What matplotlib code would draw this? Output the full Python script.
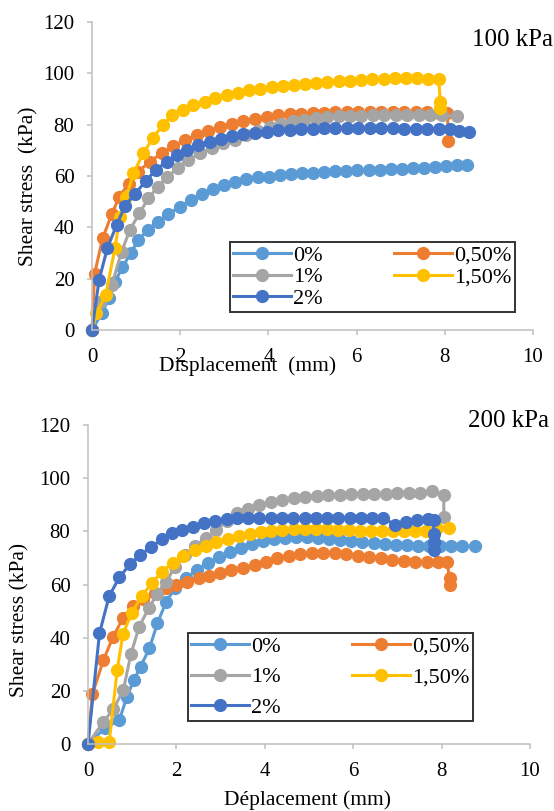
import matplotlib
matplotlib.use('Agg')
import matplotlib.pyplot as plt
from matplotlib.lines import Line2D

plt.rcParams['font.family'] = ['Liberation Serif', 'DejaVu Serif']

labels = ['0%', '0,50%', '1%', '1,50%', '2%']
colors = ['#5B9BD5', '#ED7D31', '#A5A5A5', '#FFC000', '#4472C4']

# ---- 100 kPa ----
x100_0 = [0, 0.22, 0.39, 0.52, 0.69, 0.88, 1.05, 1.26, 1.49, 1.73, 2.0, 2.24, 2.49, 2.75,
          3.0, 3.24, 3.5, 3.76, 4.01, 4.26, 4.52, 4.77, 5.02, 5.27, 5.52, 5.77, 6.02, 6.27,
          6.52, 6.77, 7.02, 7.27, 7.52, 7.77, 8.02, 8.27, 8.5]
y100_0 = [0, 6.5, 12.5, 18.8, 24.4, 30.1, 35, 39, 42.2, 45.2, 48, 50.6, 53, 54.8,
          56.5, 57.8, 59, 59.5, 59.8, 60.2, 60.6, 61.0, 61.3, 61.6, 61.8, 62.0, 62.2, 62.3,
          62.5, 62.7, 62.9, 63.1, 63.3, 63.6, 63.8, 64.1, 64.3]

x100_05 = [0, 0.06, 0.24, 0.45, 0.62, 0.83, 1.05, 1.31, 1.58, 1.84, 2.1, 2.37, 2.64, 2.9,
           3.17, 3.43, 3.7, 3.96, 4.22, 4.48, 4.74, 5.0, 5.26, 5.52, 5.78, 6.04, 6.3, 6.56,
           6.82, 7.08, 7.34, 7.6, 7.86, 8.06, 8.08]
y100_05 = [0, 22, 35.7, 45.2, 52, 57, 61.7, 65.6, 68.8, 71.6, 74, 75.9, 77.6, 79.1,
           80.4, 81.5, 82.4, 83, 83.6, 84, 84.3, 84.5, 84.7, 84.8, 84.9, 85, 85, 85,
           85, 84.9, 84.9, 84.8, 84.7, 84.5, 73.5]

x100_1 = [0, 0.18, 0.45, 0.67, 0.86, 1.07, 1.28, 1.49, 1.71, 1.96, 2.18, 2.45, 2.71, 2.98,
          3.24, 3.5, 3.76, 4.03, 4.29, 4.55, 4.81, 5.07, 5.33, 5.59, 5.85, 6.11, 6.37, 6.63,
          6.89, 7.15, 7.41, 7.67, 7.93, 8.27]
y100_1 = [0, 11, 17.5, 30.5, 39, 45.4, 51.3, 55.8, 59.7, 63.3, 66.2, 68.8, 71.1, 72.7,
          74.2, 75.9, 77.6, 79.1, 80.4, 81.3, 82, 82.5, 82.9, 83.2, 83.4, 83.5, 83.6, 83.7,
          83.7, 83.8, 83.8, 83.7, 83.6, 83.3]

x100_15 = [0, 0.1, 0.31, 0.52, 0.63, 0.78, 0.94, 1.16, 1.39, 1.6, 1.82, 2.07, 2.3, 2.56,
           2.8, 3.05, 3.32, 3.57, 3.82, 4.08, 4.33, 4.58, 4.84, 5.09, 5.34, 5.6, 5.85, 6.1,
           6.36, 6.61, 6.86, 7.11, 7.37, 7.62, 7.86, 7.9, 7.9]
y100_15 = [0, 6.5, 13.6, 31.8, 44, 52, 61, 68.8, 75, 79.8, 83.7, 85.9, 87.6, 88.9,
           90.2, 91.5, 92.5, 93.4, 94, 94.6, 95.1, 95.5, 95.9, 96.2, 96.5, 97, 97.2, 97.5,
           97.7, 97.9, 98, 98, 98, 97.9, 97.8, 89, 86.5]

x100_2 = [0, 0.16, 0.35, 0.56, 0.75, 0.97, 1.22, 1.44, 1.69, 1.92, 2.15, 2.41, 2.68, 2.93,
          3.17, 3.43, 3.7, 3.96, 4.22, 4.48, 4.74, 5.0, 5.26, 5.52, 5.78, 6.04, 6.3, 6.56,
          6.82, 7.08, 7.34, 7.6, 7.86, 8.12, 8.32, 8.56]
y100_2 = [0, 19.5, 32, 41, 48.4, 53, 58, 62.3, 65.5, 68.1, 70.3, 72, 73.3, 74.6,
          75.6, 76.3, 76.8, 77.3, 77.8, 78.1, 78.3, 78.5, 78.6, 78.7, 78.7, 78.7, 78.7, 78.6,
          78.6, 78.5, 78.5, 78.4, 78.3, 78.2, 77.6, 77.2]

# ---- 200 kPa ----
x200_0 = [0, 0.38, 0.71, 0.88, 1.04, 1.19, 1.39, 1.57, 1.77, 1.97, 2.22, 2.46, 2.71, 2.96,
          3.21, 3.46, 3.71, 3.96, 4.21, 4.46, 4.71, 4.96, 5.21, 5.46, 5.71, 5.96, 6.21, 6.46,
          6.71, 6.96, 7.21, 7.46, 7.71, 7.96, 8.21, 8.46, 8.76]
y200_0 = [0, 5.9, 9, 17.8, 24.1, 29.1, 36, 45.4, 53.6, 58.6, 62.3, 65.4, 68, 70.3,
          72.2, 73.8, 75.1, 76.2, 77, 77.5, 77.8, 77.8, 77.6, 77.2, 76.8, 76.3, 75.9, 75.6,
          75.3, 75, 74.8, 74.6, 74.5, 74.5, 74.4, 74.4, 74.5]

x200_05 = [0, 0.1, 0.35, 0.57, 0.79, 1.01, 1.25, 1.52, 1.77, 2.0, 2.25, 2.5, 2.74, 2.98,
           3.24, 3.5, 3.77, 4.03, 4.28, 4.54, 4.8, 5.06, 5.32, 5.58, 5.84, 6.1, 6.36, 6.62,
           6.88, 7.14, 7.4, 7.66, 7.92, 8.12, 8.18, 8.18]
y200_05 = [0, 18.8, 31.6, 40.4, 47.3, 51.9, 54.4, 56.7, 58.6, 59.8, 61.1, 62.3, 63.2, 64.2,
           65.4, 66.3, 67.3, 68.6, 70, 70.8, 71.3, 71.7, 71.9, 71.8, 71.3, 70.8, 70.3, 69.8,
           69.2, 68.8, 68.5, 68.3, 68.3, 68.6, 62.4, 60]

x200_1 = [0, 0.35, 0.57, 0.8, 0.97, 1.16, 1.37, 1.57, 1.77, 1.97, 2.2, 2.42, 2.67, 2.9,
          3.14, 3.37, 3.62, 3.88, 4.14, 4.4, 4.66, 4.92, 5.18, 5.44, 5.7, 5.96, 6.22, 6.48,
          6.74, 7.0, 7.26, 7.52, 7.78, 8.05, 8.05]
y200_1 = [0, 8.4, 13, 20.3, 33.8, 44.2, 51, 56.5, 61.1, 66.7, 71.1, 74.5, 77.4, 80.5,
          84, 86.8, 88.5, 90, 91, 91.8, 92.4, 92.9, 93.3, 93.6, 93.8, 94, 94.1, 94.2,
          94.2, 94.3, 94.4, 94.6, 95.2, 93.8, 85.5]

x200_15 = [0, 0.23, 0.48, 0.66, 0.79, 0.99, 1.22, 1.44, 1.67, 1.92, 2.16, 2.42, 2.67, 2.9,
           3.16, 3.41, 3.66, 3.92, 4.15, 4.4, 4.65, 4.9, 5.15, 5.4, 5.65, 5.9, 6.15, 6.4,
           6.65, 6.9, 7.15, 7.4, 7.65, 7.9, 8.16]
y200_15 = [0, 0.9, 0.9, 27.8, 41.3, 49.4, 55.7, 60.4, 64.8, 68.2, 70.8, 72.8, 74.3, 75.8,
           77.1, 78.1, 79, 79.7, 80.2, 80.5, 80.7, 80.8, 80.8, 80.7, 80.5, 80.4, 80.3, 80.2,
           80.1, 80.1, 80.0, 80.0, 80.0, 81.2, 81.3]

x200_2 = [0, 0.26, 0.48, 0.71, 0.95, 1.18, 1.42, 1.67, 1.89, 2.12, 2.38, 2.63, 2.88, 3.14,
          3.37, 3.62, 3.88, 4.13, 4.39, 4.64, 4.9, 5.15, 5.41, 5.66, 5.92, 6.17, 6.43, 6.68,
          6.94, 7.19, 7.45, 7.7, 7.82, 7.82, 7.82, 7.82]
y200_2 = [0, 41.7, 55.7, 62.7, 67.6, 71.1, 74, 77, 79.2, 80.5, 81.8, 83, 84, 84.5,
          84.9, 85, 85, 85.1, 85.1, 85.1, 85.2, 85.2, 85.2, 85.1, 85.1, 85, 84.9, 85,
          82.5, 83.5, 84.2, 84.5, 84.3, 79, 76, 73]

x_ticks = [0, 2, 4, 6, 8, 10]
y_ticks = [0, 20, 40, 60, 80, 100, 120]

W, H = 554, 811
fig = plt.figure(figsize=(W / 100, H / 100), dpi=100)


def px_axes(left, right, top, bottom):
    return fig.add_axes([left / W, 1 - bottom / H, (right - left) / W, (bottom - top) / H])


def style(ax):
    ax.set_xlim(0, 10)
    ax.set_ylim(0, 120)
    ax.set_xticks(x_ticks)
    ax.set_yticks(y_ticks)
    for s in ['top', 'right']:
        ax.spines[s].set_visible(False)
    for s in ['left', 'bottom']:
        ax.spines[s].set_color('#BFBFBF')
        ax.spines[s].set_linewidth(1.1)
    ax.tick_params(direction='out', length=3.6, width=1.1, color='#BFBFBF',
                   labelsize=15, pad=9)


def draw(ax, series):
    handles = []
    for (xs, ys), lab, c in zip(series, labels, colors):
        h, = ax.plot(xs, ys, '-o', color=c, lw=2.2, ms=8.5, mec=c, label=lab,
                     clip_on=False)
        handles.append(h)
    return handles


def legend(ax, handles, x0, y0, spacing):
    order = [0, 2, 4, 1, 3]
    leg = ax.legend([handles[i] for i in order], [labels[i] for i in order],
                    ncol=2, loc='upper left', bbox_to_anchor=(x0, y0),
                    borderaxespad=0, fontsize=16, frameon=True, fancybox=False,
                    edgecolor='black', handlelength=2.6, handletextpad=0.1,
                    columnspacing=3.2, labelspacing=spacing, borderpad=0.15)
    leg.get_frame().set_linewidth(1.4)


ax1 = px_axes(92, 533, 22, 330)
style(ax1)
h1 = draw(ax1, [(x100_0, y100_0), (x100_05, y100_05), (x100_1, y100_1),
                (x100_15, y100_15), (x100_2, y100_2)])
legend(ax1, h1, 0.313, 0.286, 0.05)

ax2 = px_axes(88, 530, 425, 744)
style(ax2)
h2 = draw(ax2, [(x200_0, y200_0), (x200_05, y200_05), (x200_1, y200_1),
                (x200_15, y200_15), (x200_2, y200_2)])
legend(ax2, h2, 0.226, 0.348, 0.45)

fig.text(553 / W, 1 - 40 / H, '100 kPa', ha='right', va='center', fontsize=18)
fig.text(549 / W, 1 - 421 / H, '200 kPa', ha='right', va='center', fontsize=18)
fig.text(248 / W, 1 - 366 / H, 'Displacement  (mm)', ha='center', va='center', fontsize=15.5)
fig.text(308 / W, 1 - 800 / H, 'Déplacement (mm)', ha='center', va='center', fontsize=15.5)
fig.text(29 / W, 1 - 186 / H, 'Shear stress  (kPa)', ha='center', va='center',
         rotation=90, fontsize=15.5)
fig.text(20 / W, 1 - 620 / H, 'Shear stress (kPa)', ha='center', va='center',
         rotation=90, fontsize=15.5)

fig.savefig('out.png', dpi=100)
